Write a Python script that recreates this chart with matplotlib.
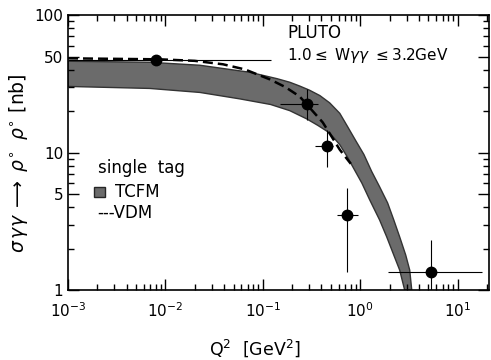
import numpy as np
import matplotlib
matplotlib.use("Agg")
import matplotlib.pyplot as plt
from matplotlib.patches import Rectangle
from matplotlib.ticker import FixedLocator, FixedFormatter, LogLocator, NullFormatter

# TCFM band (upper / lower edge)
band_up_x = [0.001, 0.0069, 0.0226, 0.0736, 0.14, 0.189, 0.239, 0.30, 0.385, 0.486, 0.617, 0.74, 0.90,
             1.09, 1.31, 1.58, 1.91, 2.21, 2.54, 2.93, 3.22, 3.38]
band_up_y = [46.2, 45.4, 43.2, 38.4, 34.5, 32.5, 30.5, 28.5, 26.0, 23.0, 19.3, 15.5, 12.2,
             9.7, 7.3, 5.65, 4.31, 3.24, 2.44, 1.80, 1.40, 1.0]
band_lo_x = [0.001, 0.0069, 0.0226, 0.058, 0.12, 0.189, 0.282, 0.366, 0.486, 0.617, 0.738,
             0.838, 1.04, 1.25, 1.58, 1.87, 2.21, 2.54, 2.86]
band_lo_y = [30.3, 29.3, 27.4, 24.6, 22.4, 20.2, 17.6, 15.8, 13.9, 11.4, 9.3,
             7.9, 6.0, 4.54, 3.24, 2.44, 1.80, 1.40, 1.0]

# VDM curve
vdm_x = [0.001, 0.0088, 0.02, 0.039, 0.0653, 0.118, 0.17, 0.239, 0.412, 0.617, 0.80]
vdm_y = [48.5, 47.7, 46.5, 43.9, 40.3, 34.1, 30.0, 25.6, 16.6, 10.5, 8.3]

# PLUTO single tag data
q2 = np.array([0.0080, 0.282, 0.453, 0.728, 5.28])
q2_lo = np.array([0.001, 0.149, 0.341, 0.574, 1.91])
q2_hi = np.array([0.12, 0.366, 0.52, 0.94, 17.6])
sigma = np.array([47.0, 22.4, 11.1, 3.53, 1.36])
sig_lo = np.array([47.0, 17.4, 7.8, 1.35, 1.0])
sig_hi = np.array([47.0, 28.8, 14.7, 5.55, 2.32])

yticks = [1, 5, 10, 50, 100]
ylabels = ["1", "5", "10", "50", "100"]

plt.rcParams["font.family"] = ["DejaVu Sans"]
plt.rcParams["mathtext.fontset"] = "dejavusans"

fig = plt.figure(figsize=(4.91, 3.6), dpi=100)
ax = fig.add_axes([0.1385, 0.194, 0.8575, 0.764])

bx = np.r_[band_up_x, band_lo_x[::-1]]
by = np.r_[band_up_y, band_lo_y[::-1]]
ax.fill(bx, by, facecolor="0.42", edgecolor="0.2", lw=1.0, zorder=1)

ax.plot(vdm_x, vdm_y, color="black", lw=1.8, dashes=(4, 2), zorder=2)

ax.errorbar(q2, sigma, xerr=[q2 - q2_lo, q2_hi - q2], yerr=[sigma - sig_lo, sig_hi - sigma],
            fmt="o", color="black", ms=7.5, elinewidth=0.8, capsize=0, zorder=3)

ax.set_xscale("log")
ax.set_yscale("log")
ax.set_xlim(1e-3, 21)
ax.set_ylim(1, 100)

ax.yaxis.set_major_locator(FixedLocator(yticks))
ax.yaxis.set_major_formatter(FixedFormatter(ylabels))
ax.yaxis.set_minor_locator(FixedLocator([2, 3, 4, 6, 7, 8, 9, 20, 30, 40, 60, 70, 80, 90]))
ax.yaxis.set_minor_formatter(NullFormatter())
ax.xaxis.set_major_locator(LogLocator(base=10, numticks=10))
ax.xaxis.set_minor_locator(LogLocator(base=10, subs=np.arange(2, 10), numticks=20))
ax.xaxis.set_minor_formatter(NullFormatter())

ax.tick_params(which="both", direction="in", top=True, right=True, width=1.0, labelsize=11)
ax.tick_params(which="major", length=8)
ax.tick_params(which="minor", length=4)
ax.tick_params(axis="x", pad=8)
for s in ax.spines.values():
    s.set_linewidth(1.2)

ax.set_xlabel(r"Q$^2$  [GeV$^2$]", fontsize=12.5)
ax.xaxis.set_label_coords(0.445, -0.17)
ax.set_ylabel(r"$\sigma\,\gamma\gamma\;\longrightarrow\;\rho^{\circ}\;\;\rho^{\circ}$ [nb]", fontsize=13.5)
ax.yaxis.set_label_coords(-0.09, 0.46)

ax.text(0.52, 0.935, "PLUTO", transform=ax.transAxes, fontsize=12, va="center", ha="left")
ax.text(0.52, 0.855, r"1.0$\leq$ W$\gamma\gamma$ $\leq$3.2GeV", transform=ax.transAxes,
        fontsize=11, va="center", ha="left")

ax.text(0.071, 0.444, "single  tag", transform=ax.transAxes, fontsize=12, va="center", ha="left")
ax.add_patch(Rectangle((0.062, 0.338), 0.026, 0.037, transform=ax.transAxes,
                       facecolor="0.42", edgecolor="0.15", lw=1.0))
ax.text(0.112, 0.356, "TCFM", transform=ax.transAxes, fontsize=12, va="center", ha="left")
ax.text(0.069, 0.28, "---VDM", transform=ax.transAxes, fontsize=12, va="center", ha="left")

fig.savefig("out.png", dpi=100)
